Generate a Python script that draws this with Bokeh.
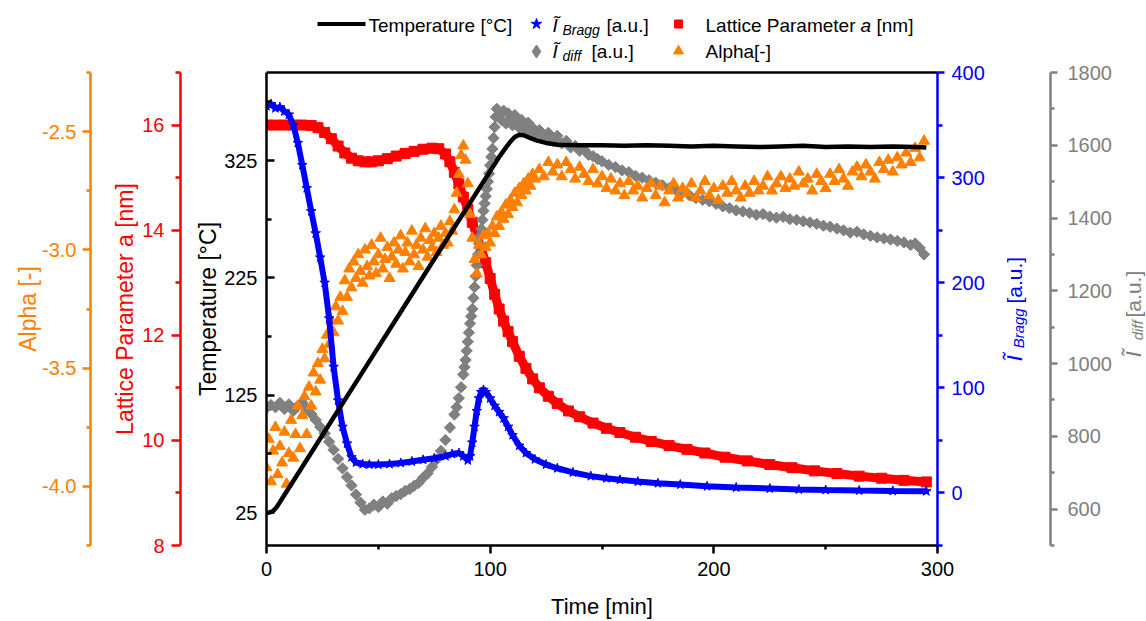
import math
from bokeh.plotting import figure
from bokeh.models import Range1d, LinearAxis, FixedTicker
from bokeh.layouts import row, column
from bokeh.embed import file_html
from bokeh.resources import INLINE
from bokeh.core.properties import value

FONT = "Liberation Sans"
BLACK, BLUE, RED, GRAY, ORANGE = "#000000", "#0000FF", "#FF0000", "#808080", "#FF8000"

# ------------------------------------------------------------------ data
temp_time = [0, 1, 2, 3, 4, 5, 7, 10,
             20, 30, 40, 50, 60, 70, 80, 90, 100,
             104, 107, 109, 111, 113, 115, 118, 121, 125, 130,
             140, 150, 160, 170, 180, 190, 200, 210, 220, 230, 240, 250, 260, 270, 280, 290,
             295]
temp_val = [25, 25, 25.5, 26.5, 28.5, 31, 37, 46,
            76, 106, 136, 166, 196, 226, 256, 286, 316,
            328, 336, 341, 345, 347, 346.5, 344, 342, 340, 338.5,
            338, 338, 337.5, 338, 337.5, 337, 337.5, 337, 336.5, 337, 337.5, 336.5, 337, 336.5, 337, 336.5,
            336]

bragg_time = [0, 2, 4, 6, 8, 10, 12, 14, 16, 18, 20, 22, 24, 26, 28, 30, 32, 34, 36, 38, 40,
              43, 46, 50, 55, 60, 65, 70, 75, 80,
              83, 86, 88, 90, 91, 92, 93, 94, 95, 96, 97, 98,
              100, 102, 104, 106, 108, 110,
              113, 116, 120, 125, 130, 137, 145, 152, 158, 166,
              175, 185, 197, 210, 225, 238, 250, 265, 280, 295]
bragg_val = [368, 370, 366, 367, 363, 360, 350, 333, 312, 290, 268, 247, 224, 200, 166, 120, 88, 63, 47, 34, 29,
             27.5, 27, 27, 27.5, 28.5, 30, 31.5, 33, 35,
             37, 38, 35, 31, 35, 48, 63, 78, 90, 96, 98, 96,
             90, 83, 77, 71, 63, 55,
             45, 38, 32, 27, 23.5, 19.5, 16, 14, 12.5, 10.8,
             9.3, 8, 6.4, 5.2, 4.2, 3.3, 2.8, 2.3, 1.9, 1.6]

lat_time = [0, 4, 8, 12, 16, 20,
            23, 26, 29, 32, 35, 38, 41, 44, 47, 50,
            54, 58, 62, 66, 70, 74,
            77, 80, 82, 84, 86, 88, 90, 92, 94, 96, 98, 100,
            102, 104, 106, 108, 110,
            113, 116, 119, 122, 126, 130,
            135, 140, 146, 152, 158, 165, 172, 180, 188, 196,
            205, 215, 225, 235, 245, 255, 265, 275, 285, 295]
lat_val = [16.0, 16.0, 16.0, 16.0, 16.0, 15.99,
           15.95, 15.86, 15.74, 15.6, 15.47, 15.37, 15.32, 15.3, 15.3, 15.32,
           15.36, 15.41, 15.46, 15.5, 15.54, 15.56,
           15.55, 15.45, 15.3, 15.1, 14.88, 14.63, 14.4, 14.15, 13.9, 13.65, 13.38, 13.08,
           12.78, 12.5, 12.27, 12.07, 11.88,
           11.6, 11.37, 11.17, 11.0, 10.84, 10.7,
           10.56, 10.45, 10.33, 10.23, 10.15, 10.06, 9.98, 9.9, 9.83, 9.76,
           9.68, 9.61, 9.54, 9.48, 9.42, 9.37, 9.32, 9.28, 9.24, 9.21]

diff_time = [0, 2, 4, 6, 8, 10, 12, 14, 16, 18,
             20, 22, 24, 26, 28, 30, 32, 34, 36, 38,
             40, 42, 44, 46, 48, 50, 52, 54, 56, 58,
             60, 62, 64, 66, 68, 70, 72, 74, 76, 78,
             80, 82, 84, 85, 86, 87, 88, 88.5, 89, 89.5,
             90, 90.5, 91, 91.5, 92, 92.5, 93, 93.5, 94, 94.5,
             95, 95.5, 96, 96.5, 97, 97.5, 98, 98.5, 99, 99.5,
             100, 100.5, 101, 101.5, 102, 102.5, 103, 104, 105, 106,
             107, 108, 109, 110, 111, 112, 113, 114, 115, 116,
             117, 118, 119, 120, 122, 124, 126, 128, 130, 132,
             134, 136, 138, 140, 142, 144, 146, 148, 150, 153,
             156, 159, 162, 165, 168, 171, 174, 177, 180, 183,
             186, 189, 192, 195, 198, 201, 204, 207, 210, 213,
             216, 219, 222, 225, 228, 231, 234, 237, 240, 243,
             246, 249, 252, 255, 258, 261, 264, 267, 270, 273,
             276, 279, 282, 285, 288, 290, 292, 294]
diff_val = [878, 886, 880, 892, 875, 888, 870, 884, 893, 876,
            862, 845, 826, 808, 785, 763, 738, 712, 688, 665,
            640, 618, 598, 602, 612, 606, 621, 615, 630, 636,
            641, 650, 655, 664, 672, 686, 698, 716, 736, 760,
            790, 824, 860, 880, 905, 935, 970, 990, 1010, 1035,
            1060, 1085, 1110, 1130, 1150, 1180, 1210, 1240, 1270, 1300,
            1330, 1350, 1370, 1395, 1420, 1440, 1460, 1480, 1500, 1522,
            1545, 1568, 1590, 1620, 1650, 1678, 1700, 1682, 1670, 1695,
            1660, 1688, 1672, 1655, 1683, 1664, 1648, 1670, 1652, 1640,
            1662, 1632, 1648, 1628, 1642, 1620, 1634, 1612, 1626, 1605,
            1612, 1594, 1598, 1585, 1588, 1574, 1570, 1562, 1556, 1546,
            1540, 1531, 1526, 1516, 1511, 1504, 1497, 1490, 1482, 1477,
            1469, 1463, 1455, 1450, 1446, 1439, 1432, 1427, 1421, 1418,
            1414, 1409, 1411, 1404, 1401, 1403, 1397, 1395, 1391, 1388,
            1384, 1379, 1376, 1371, 1366, 1360, 1362, 1355, 1351, 1347,
            1344, 1341, 1337, 1333, 1326, 1330, 1318, 1300]

alpha_time = [0, 1, 2, 3, 4, 5, 6, 7, 8, 9,
              10, 11, 12, 13, 14, 15, 16, 17, 18, 19,
              20, 21, 22, 23, 24, 25, 26, 27, 28, 29,
              30, 31, 32, 33, 34, 35, 36, 37, 38, 39,
              40, 41, 42, 43, 44, 45, 46, 47, 48, 49,
              50, 51, 52, 53, 54, 55, 56, 57, 58, 59,
              60, 61, 62, 63, 64, 65, 66, 67, 68, 69,
              70, 71, 72, 73, 74, 75, 76, 77, 78, 79,
              80, 81, 82, 83, 84, 85, 86, 87, 88, 89,
              90, 91, 92, 93, 94, 95, 96, 97, 98, 99,
              100, 101, 102, 103, 104, 105, 106, 107, 108, 109,
              110, 111, 112, 113, 114, 115, 116, 117, 118, 119,
              120,
              122, 124, 126, 128, 130, 132, 134, 136, 138, 140,
              142, 144, 146, 148, 150, 152, 154, 156, 158, 160,
              162, 164, 166, 168, 170, 172, 174, 176, 178, 180,
              182, 184, 186, 188, 190, 192, 194, 196, 198, 200,
              202, 204, 206, 208, 210, 212, 214, 216, 218, 220,
              222, 224, 226, 228, 230, 232, 234, 236, 238, 240,
              242, 244, 246, 248, 250, 252, 254, 256, 258, 260,
              262, 264, 266, 268, 270, 272, 274, 276, 278, 280,
              282, 284, 286, 288, 290, 292, 294]
alpha_val = [-3.92, -3.80, -3.98, -3.85, -3.75, -3.95, -3.83, -3.90, -3.77, -3.99,
             -3.86, -3.72, -3.88, -3.78, -3.66, -3.84, -3.70, -3.62, -3.78, -3.58,
             -3.66, -3.52, -3.60, -3.48, -3.55, -3.42, -3.46, -3.36, -3.40, -3.30,
             -3.35, -3.24, -3.30, -3.20, -3.26, -3.13, -3.20, -3.08, -3.16, -3.05,
             -3.12, -3.02, -3.09, -3.14, -3.00, -3.07, -3.11, -2.98, -3.05, -3.10,
             -3.02, -2.95, -3.08, -3.04, -2.99, -3.12, -3.03, -2.97, -3.06, -3.00,
             -2.94, -3.08, -3.01, -2.97, -3.05, -2.92, -3.02, -2.98, -3.07, -2.95,
             -3.00, -2.91, -3.03, -2.96, -2.99, -2.93, -3.01, -2.95, -2.90, -2.98,
             -2.93, -2.97, -2.88, -2.92, -2.83, -2.76, -2.68, -2.60, -2.56, -2.62,
             -2.72, -2.85, -2.95, -3.04, -3.10, -2.98, -3.02, -2.94, -2.99, -2.93,
             -2.97, -2.90, -2.93, -2.86, -2.90, -2.84, -2.87, -2.81, -2.85, -2.79,
             -2.82, -2.76, -2.80, -2.74, -2.77, -2.72, -2.75, -2.70, -2.73, -2.68,
             -2.70,
             -2.66, -2.69, -2.63, -2.67, -2.64, -2.69, -2.63, -2.66, -2.70, -2.65,
             -2.68, -2.71, -2.66, -2.72, -2.69, -2.74, -2.70, -2.75, -2.72, -2.77,
             -2.71, -2.75, -2.73, -2.78, -2.74, -2.72, -2.77, -2.73, -2.80, -2.75,
             -2.72, -2.78, -2.74, -2.76, -2.72, -2.78, -2.75, -2.71, -2.77, -2.74,
             -2.79, -2.73, -2.76, -2.71, -2.75, -2.78, -2.73, -2.76, -2.71, -2.75,
             -2.73, -2.69, -2.75, -2.72, -2.69, -2.74, -2.70, -2.73, -2.67, -2.72,
             -2.70, -2.75, -2.68, -2.71, -2.74, -2.68, -2.71, -2.66, -2.70, -2.73,
             -2.67, -2.65, -2.69, -2.64, -2.67, -2.70, -2.63, -2.66, -2.62, -2.67,
             -2.61, -2.64, -2.59, -2.63, -2.57, -2.61, -2.54]

# ticks
time_ticks, time_minor = [0, 100, 200, 300], [50, 150, 250]
temp_ticks, temp_minor = [25, 125, 225, 325], [75, 175, 275, 375]
bragg_ticks, bragg_minor = [0, 100, 200, 300, 400], [-50, 50, 150, 250, 350]
lat_ticks, lat_minor = [8, 10, 12, 14, 16], [9, 11, 13, 15, 17]
diff_ticks = [600, 800, 1000, 1200, 1400, 1600, 1800]
diff_minor = [500, 700, 900, 1100, 1300, 1500, 1700]
alpha_ticks = [-4.0, -3.5, -3.0, -2.5]
alpha_tick_labels = ["-4.0", "-3.5", "-3.0", "-2.5"]
alpha_minor = [-4.25, -3.75, -3.25, -2.75, -2.25]

# ------------------------------------------------------------------ ranges
x_rng = Range1d(0, 300)
temp_rng = Range1d(-3, 400)
bragg_rng = Range1d(-50, 400)
lat_rng = Range1d(8, 17)
diff_rng = Range1d(500, 1800)
alpha_rng = Range1d(-4.25, -2.25)

LEG_H = 62
ROW_H = 621 - LEG_H
MB_TOP, MB_BOT = 10, 74
FR_TOP = LEG_H + MB_TOP          # 72
FR_BOT = LEG_H + ROW_H - MB_BOT  # 547


def style_axis(ax, color, ticks, minor, tin, tout, min_in, min_out, standoff,
               label=None, label_size="23px", label_standoff=3):
    ax.ticker = FixedTicker(ticks=ticks, minor_ticks=minor)
    ax.axis_line_color = color
    ax.axis_line_width = 2.5
    ax.major_tick_line_color = color
    ax.major_tick_line_width = 2.5
    ax.minor_tick_line_color = color
    ax.minor_tick_line_width = 2.5
    ax.major_tick_in, ax.major_tick_out = tin, tout
    ax.minor_tick_in, ax.minor_tick_out = min_in, min_out
    ax.major_label_text_color = color
    ax.major_label_text_font = FONT
    ax.major_label_text_font_size = "20px"
    ax.major_label_standoff = standoff
    if label is not None:
        ax.axis_label = label
        ax.axis_label_text_color = color
        ax.axis_label_text_font = FONT
        ax.axis_label_text_font_size = label_size
        ax.axis_label_text_font_style = "normal"
        ax.axis_label_standoff = label_standoff


def clean(f):
    f.outline_line_color = None
    f.grid.visible = False
    f.background_fill_color = "white"
    f.border_fill_color = "white"


def txt(f, x, y, s, size, style="normal", color=BLACK, angle=0.0, yname="default"):
    f.text(x=[x], y=[y], text=[s], text_font=value(FONT), text_font_size=value(size),
           text_font_style=value(style), text_color=color, text_align="left",
           text_baseline="middle", angle=angle, y_range_name=yname)


# ------------------------------------------------------------------ main plot
main = figure(width=805, height=ROW_H, x_range=x_rng, y_range=temp_rng,
              output_backend="svg", toolbar_location=None,
              min_border_left=84, min_border_right=50,
              min_border_top=MB_TOP, min_border_bottom=MB_BOT)
clean(main)
main.extra_y_ranges = {"bragg": bragg_rng, "lattice": lat_rng,
                       "diff": diff_rng, "alpha": alpha_rng}

style_axis(main.xaxis[0], BLACK, time_ticks, time_minor, 0, 8, 0, 4, 8,
           label="Time [min]", label_size="22px", label_standoff=15)
style_axis(main.yaxis[0], BLACK, temp_ticks, temp_minor, 8, 0, 5, 0, 9,
           label="Temperature [°C]", label_standoff=0)

bragg_axis = LinearAxis(y_range_name="bragg")
style_axis(bragg_axis, BLUE, bragg_ticks, bragg_minor, 0, 7, 0, 5, 7)
main.add_layout(bragg_axis, "right")

top_axis = LinearAxis(ticker=FixedTicker(ticks=[]), axis_line_color=BLACK, axis_line_width=2.5,
                      major_tick_in=0, major_tick_out=0, minor_tick_in=0, minor_tick_out=0,
                      major_label_standoff=0)
main.add_layout(top_axis, "above")

main.line(lat_time, lat_val, y_range_name="lattice", line_color=RED, line_width=9)
main.scatter(lat_time, lat_val, y_range_name="lattice", marker="square", size=10,
             fill_color=RED, line_color=RED)
main.scatter(diff_time, diff_val, y_range_name="diff", marker="square", angle=math.pi / 4,
             size=8, fill_color=GRAY, line_color=GRAY)
main.scatter(alpha_time, alpha_val, y_range_name="alpha", marker="triangle", size=11,
             fill_color=ORANGE, line_color=ORANGE)
main.line(bragg_time, bragg_val, y_range_name="bragg", line_color=BLUE, line_width=6)
main.scatter(bragg_time, bragg_val, y_range_name="bragg", marker="star", size=10,
             fill_color=BLUE, line_color=BLUE)
main.line(temp_time, temp_val, line_color=BLACK, line_width=4.5)

# ------------------------------------------------------------------ side axes
def side(width, mbl, mbr, yr, yloc):
    f = figure(width=width, height=ROW_H, x_range=Range1d(0, 1), y_range=yr,
               output_backend="svg", toolbar_location=None,
               x_axis_location=None, y_axis_location=yloc,
               min_border_left=mbl, min_border_right=mbr,
               min_border_top=MB_TOP, min_border_bottom=MB_BOT)
    clean(f)
    return f


f_alpha = side(92, 90, 0, alpha_rng, "left")
style_axis(f_alpha.yaxis[0], ORANGE, alpha_ticks, alpha_minor, 0, 8, 0, 4, 6,
           label="Alpha [-]", label_standoff=-2)
f_alpha.yaxis[0].major_label_overrides = dict(zip(alpha_ticks, alpha_tick_labels))

f_lat = side(90, 88, 0, lat_rng, "left")
style_axis(f_lat.yaxis[0], RED, lat_ticks, lat_minor, 0, 9, 0, 5, 7,
           label="Lattice Parameter a [nm]", label_standoff=1)

f_diff = side(127, 0, 64, diff_rng, "right")
f_diff.x_range = Range1d(987, 1050)
f_diff.extra_y_ranges = {"pix": Range1d(FR_BOT, FR_TOP)}
style_axis(f_diff.yaxis[0], GRAY, diff_ticks, diff_minor, 0, 7, 0, 4, 10)
half_pi = math.pi / 2
txt(f_diff, 1014, 362, "Ĩ", "22px", "italic", BLUE, half_pi, "pix")
txt(f_diff, 1018, 349, "Bragg", "15px", "italic", BLUE, half_pi, "pix")
txt(f_diff, 1014, 304, "[a.u.]", "21px", "normal", BLUE, half_pi, "pix")

f_lbl = figure(width=32, height=ROW_H, x_range=Range1d(1114, 1146),
               y_range=Range1d(FR_BOT, FR_TOP),
               output_backend="svg", toolbar_location=None,
               x_axis_location=None, y_axis_location=None,
               min_border_left=0, min_border_right=0,
               min_border_top=MB_TOP, min_border_bottom=MB_BOT)
clean(f_lbl)
txt(f_lbl, 1133, 358, "Ĩ", "22px", "italic", GRAY, half_pi)
txt(f_lbl, 1137, 341, "diff", "15px", "italic", GRAY, half_pi)
txt(f_lbl, 1133, 318, "[a.u.]", "21px", "normal", GRAY, half_pi)

# ------------------------------------------------------------------ legend strip
leg = figure(width=1146, height=LEG_H, x_range=Range1d(0, 1146), y_range=Range1d(LEG_H, 0),
             output_backend="svg", toolbar_location=None,
             x_axis_location=None, y_axis_location=None,
             min_border_left=0, min_border_right=0, min_border_top=0, min_border_bottom=0)
clean(leg)
leg.line([317, 365], [23.5, 23.5], line_color=BLACK, line_width=4)
leg.scatter([536], [23.5], marker="star", size=11, fill_color=BLUE, line_color=BLUE)
leg.scatter([678], [23.5], marker="square", size=8, fill_color=RED, line_color=RED)
leg.scatter([536], [51], marker="diamond", size=13, fill_color=GRAY, line_color=GRAY)
leg.scatter([678], [50.5], marker="triangle", size=10, fill_color=ORANGE, line_color=ORANGE)
txt(leg, 368, 24.5, "Temperature [°C]", "19px")
txt(leg, 552, 24.5, "Ĩ", "19px", "italic")
txt(leg, 562, 29.5, "Bragg", "14px", "italic")
txt(leg, 606, 24.5, "[a.u.]", "19px")
txt(leg, 705, 24.5, "Lattice Parameter", "19px")
txt(leg, 860, 24.5, "a", "19px", "italic")
txt(leg, 876, 24.5, "[nm]", "19px")
txt(leg, 552, 50.5, "Ĩ", "19px", "italic")
txt(leg, 562, 55, "diff", "14px", "italic")
txt(leg, 591, 50.5, "[a.u.]", "19px")
txt(leg, 705, 50.5, "Alpha[-]", "19px")

layout = column(leg, row(f_alpha, f_lat, main, f_diff, f_lbl))

open("out.html", "w").write(file_html(layout, INLINE, title="chart"))
